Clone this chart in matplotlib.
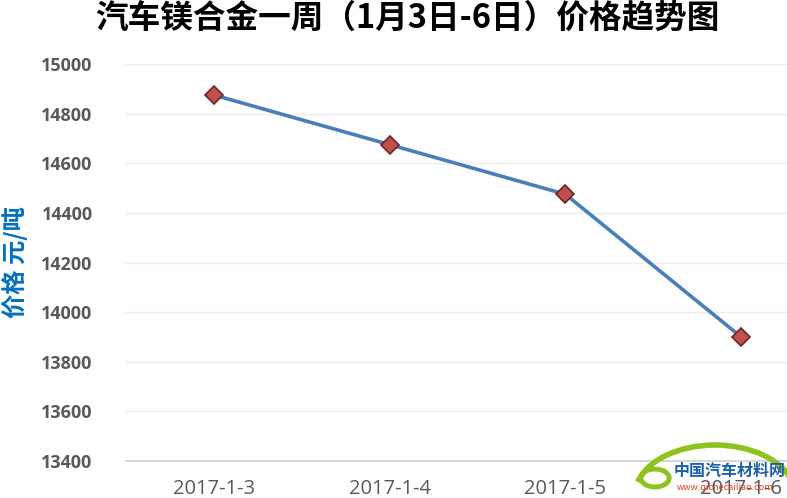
import matplotlib
matplotlib.use("Agg")
import matplotlib.pyplot as plt
from matplotlib.patches import Arc, Circle

plt.rcParams['font.family'] = ['Noto Sans CJK SC', 'DejaVu Sans']

dates = ["2017-1-3", "2017-1-4", "2017-1-5", "2017-1-6"]
prices = [14875, 14675, 14475, 13900]
yticks = [13400, 13600, 13800, 14000, 14200, 14400, 14600, 14800, 15000]
title = "汽车镁合金一周（1月3日-6日）价格趋势图"
ylabel = "价格 元/吨"

fig = plt.figure(figsize=(7.87, 4.98), dpi=100)
ax = fig.add_axes([126/787, 1-461/498, (829-126)/787, (461-64)/498])

x = list(range(len(dates)))
ax.plot(x, prices, color='#4A7EBB', lw=2.6, marker='D', markersize=9,
        markerfacecolor='#C0504D', markeredgecolor='#6B2624', markeredgewidth=1.2, zorder=3)

ax.set_xlim(-0.5, len(dates) - 0.5)
ax.set_ylim(13400, 15000)
ax.set_yticks(yticks)
ax.set_yticklabels([str(v) for v in yticks], fontsize=13, color='#595959',
                   fontweight='bold', family=['Open Sans', 'DejaVu Sans'])
ax.set_xticks(x)
ax.set_xticklabels(dates, fontsize=14.5, color='#595959', family=['Open Sans', 'DejaVu Sans'])
ax.tick_params(axis='both', length=0)
ax.tick_params(axis='y', pad=24)
ax.tick_params(axis='x', pad=13)
ax.grid(axis='y', color='#EDEDED', lw=1)
ax.set_axisbelow(True)
for s in ['top', 'right', 'left']:
    ax.spines[s].set_visible(False)
ax.spines['bottom'].set_color('#D0D0D0')
ax.spines['bottom'].set_linewidth(1.2)

fig.text(407/787, 1-18/498, title, ha='center', va='center', fontsize=23.5,
         fontweight='bold', color='#000000')
fig.text(15/787, 1-262/498, ylabel, ha='center', va='center', rotation=90,
         fontsize=17.5, fontweight='bold', color='#0070C0')

# watermark
arc = Arc((715/787, 1-495/498), 160/787, 100/498, theta1=15, theta2=165,
          transform=fig.transFigure, color='#8DC21F', lw=4, zorder=5)
fig.add_artist(arc)
circ = Circle((655/787, 1-478/498), 0.018, transform=fig.transFigure, fill=False,
              edgecolor='#8DC21F', lw=3.5, zorder=5)
fig.add_artist(circ)
fig.text(730/787, 1-471/498, "中国汽车材料网", ha='center', va='center', fontsize=11.5,
         fontweight='bold', color='#1B5FAA', style='italic', zorder=6)
fig.text(725/787, 1-487/498, "www.qichecailiao.com", ha='center', va='center', fontsize=6.5,
         color='#E03C1F', style='italic', zorder=6)

fig.savefig("out.png", dpi=100)
